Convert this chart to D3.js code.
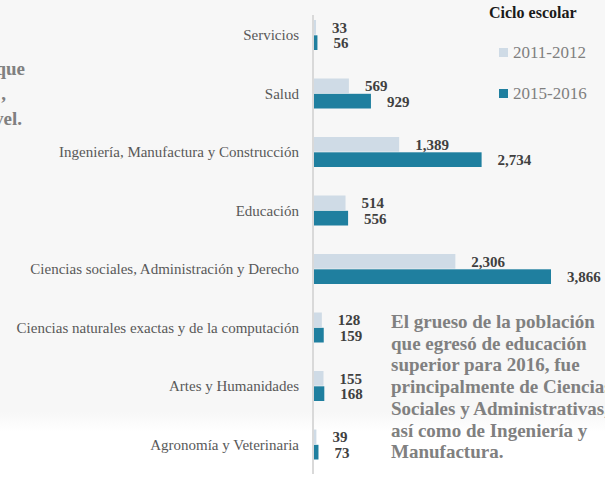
<!DOCTYPE html>
<html>
  <head>
    <meta charset="utf-8" />
    <script src="https://cdn.jsdelivr.net/npm/d3@7"></script>
    <style>
    body{ margin:0; background:#ffffff; }
    svg{ display:block; font-family: "Liberation Serif", "Times New Roman", serif; }
    .cat{ fill:#595959; font-size:15px; }
    .val{ fill:#404040; font-size:15px; font-weight:bold; }
    .note{ fill:#808080; font-size:19px; font-weight:bold; }
    .leg{ fill:#7f7f7f; font-size:17px; }
    </style>
  </head>
  <body>
    <div id="chart"></div>
    <script>
var w = 605, h = 487;

// datos
var categories = ["Servicios", "Salud", "Ingeniería, Manufactura y Construcción", "Educación",
  "Ciencias sociales, Administración y Derecho", "Ciencias naturales exactas y de la computación",
  "Artes y Humanidades", "Agronomía y Veterinaria"];
var series = ["2011-2012", "2015-2016"];
var v2012 = [33, 569, 1389, 514, 2306, 128, 155, 39];
var v2016 = [56, 929, 2734, 556, 3866, 159, 168, 73];
var colors = ["#cfdbe6", "#1f7f9f"];

var noteRight = ["El grueso de la población", "que egresó de educación", "superior para 2016, fue",
  "principalmente de Ciencias", "Sociales y Administrativas,", "así como de Ingeniería y", "Manufactura."];
var noteLeft = ["que", ",", "vel."];

var svg = d3.select("#chart").append("svg").attr("width", w).attr("height", h);

// fondo gris con borde blanco abajo
var defs = svg.append("defs");
var grad = defs.append("linearGradient").attr("id", "bg").attr("x1", 0).attr("x2", 0).attr("y1", 0).attr("y2", 1);
grad.append("stop").attr("offset", (412 / h)).attr("stop-color", "#f7f7f7");
grad.append("stop").attr("offset", (432 / h)).attr("stop-color", "#ffffff");
svg.append("rect").attr("width", w).attr("height", h).attr("fill", "url(#bg)");

var x = d3.scaleLinear().domain([0, 3866]).range([314, 551]);
var y = d3.scaleBand().domain(categories).range([20, 20 + 58.5 * 8]);
var ys = d3.scaleBand().domain(series).range([0, 30]).paddingInner(0.04);

var rows = categories.map(function(c, i){ return {cat: c, vals: [v2012[i], v2016[i]]}; });

// eje vertical
svg.append("line")
  .attr("x1", 313).attr("x2", 313).attr("y1", 15).attr("y2", 474)
  .attr("stroke", "#d9d9d9").attr("stroke-width", 2);

var g = svg.selectAll("g.row").data(rows).enter().append("g")
  .attr("class", "row")
  .attr("transform", function(d){ return "translate(0," + y(d.cat) + ")"; });

g.append("text").attr("class", "cat")
  .attr("x", 299).attr("y", 15).attr("dy", "0.35em")
  .attr("text-anchor", "end")
  .text(function(d){ return d.cat; });

var fmt = d3.format(",");
g.each(function(d){
  var sel = d3.select(this);
  series.forEach(function(s, j){
    var v = d.vals[j];
    sel.append("rect")
      .attr("x", x(0)).attr("y", ys(s))
      .attr("width", x(v) - x(0)).attr("height", ys.bandwidth())
      .attr("fill", colors[j]);
    sel.append("text").attr("class", "val")
      .attr("x", x(v) + 16).attr("y", ys(s) + ys.bandwidth() - 2)
      .text(fmt(v));
  });
});

// leyenda
svg.append("text").attr("x", 489).attr("y", 18)
  .attr("font-size", 16).attr("font-weight", "bold").attr("fill", "#1a1a1a")
  .text("Ciclo escolar");
var lg = svg.selectAll("g.leg").data(series).enter().append("g")
  .attr("transform", function(d, i){ return "translate(499," + (48 + i * 41) + ")"; });
lg.append("rect").attr("width", 9).attr("height", 9)
  .attr("fill", function(d, i){ return colors[i]; });
lg.append("text").attr("class", "leg").attr("x", 14).attr("y", 10).text(function(d){ return d; });

// notas
svg.selectAll("text.nr").data(noteRight).enter().append("text")
  .attr("class", "note nr").attr("x", 391)
  .attr("y", function(d, i){ return 328 + i * 21.7; })
  .text(function(d){ return d; });

svg.selectAll("text.nl").data(noteLeft).enter().append("text")
  .attr("class", "note nl").attr("text-anchor", "end")
  .attr("x", function(d, i){ return [25, 6, 22][i]; })
  .attr("y", function(d, i){ return 75 + i * 25; })
  .text(function(d){ return d; });
    </script>
  </body>
</html>
